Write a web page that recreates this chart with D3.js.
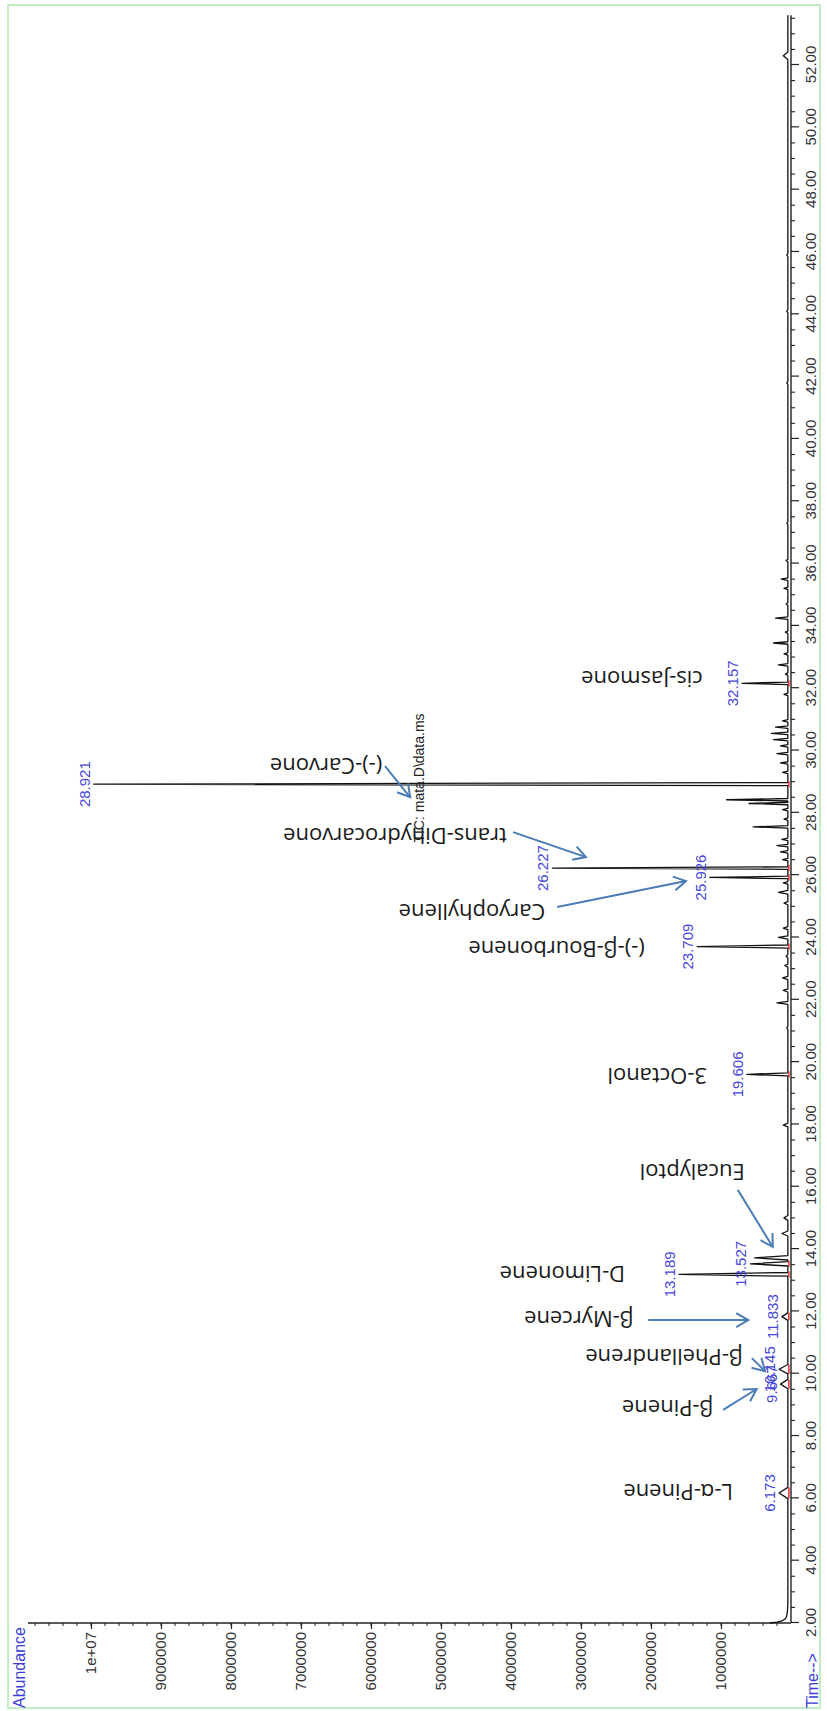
<!DOCTYPE html>
<html>
<head>
<meta charset="utf-8">
<script src="https://cdn.jsdelivr.net/npm/d3@7"></script>
<style>
  body { margin: 0; background: #fff; }
  svg { display: block; }
</style>
</head>
<body>
<svg id="chart" width="827" height="1711"></svg>
<script>
// ---- TIC trace: peak apexes (retention time in min, abundance, half base width in min)
const peakTimes = [6.173, 9.667, 10.145, 11.833, 13.189, 13.527, 13.72, 14.5, 15.0, 17.98,
  19.606, 21.1, 21.9, 22.3, 22.7, 23.1, 23.4, 23.709, 24.0, 24.3,
  25.1, 25.45, 25.75, 25.926, 26.227, 26.5, 26.75, 26.95, 27.15, 27.55,
  27.8, 28.1, 28.3, 28.42, 28.921, 29.3, 29.6, 29.9, 30.15, 30.35,
  30.55, 30.75, 30.95, 31.8, 32.157, 32.45, 32.75, 33.1, 33.45, 33.8,
  34.25, 34.7, 35.2, 35.5, 36.1, 37.3, 41.8, 44.1, 45.9, 52.3];
const peakHeights = [170000, 150000, 170000, 130000, 1600000, 580000, 520000, 130000, 100000, 110000,
  630000, 60000, 200000, 110000, 120000, 90000, 70000, 1340000, 180000, 110000,
  100000, 180000, 110000, 1160000, 3410000, 120000, 150000, 200000, 130000, 540000,
  100000, 120000, 600000, 920000, 9960000, 120000, 150000, 200000, 150000, 250000,
  280000, 220000, 120000, 100000, 700000, 80000, 180000, 100000, 250000, 80000,
  220000, 70000, 100000, 140000, 70000, 60000, 60000, 60000, 60000, 110000];
const peakHalfWidths = [0.18, 0.15, 0.15, 0.12, 0.06, 0.07, 0.07, 0.08, 0.08, 0.06,
  0.05, 0.05, 0.05, 0.05, 0.05, 0.05, 0.05, 0.05, 0.05, 0.05,
  0.05, 0.06, 0.04, 0.04, 0.04, 0.04, 0.04, 0.04, 0.04, 0.04,
  0.04, 0.04, 0.04, 0.04, 0.05, 0.04, 0.04, 0.04, 0.04, 0.04,
  0.04, 0.04, 0.04, 0.04, 0.04, 0.04, 0.04, 0.04, 0.04, 0.04,
  0.04, 0.04, 0.04, 0.04, 0.04, 0.04, 0.05, 0.05, 0.05, 0.12];

// solvent tail at the start of the run
const tailTimes = [2.0, 2.03, 2.07, 2.12, 2.2, 2.35, 2.6];
const tailValues = [300000, 200000, 130000, 90000, 65000, 52000, 45000];
const baselineLevel = 45000;
const runEnd = 53.6;

// integrated peaks carrying a retention-time label
const rtLabels = ["6.173", "9.667", "10.145", "11.833", "13.189", "13.527",
  "19.606", "23.709", "25.926", "26.227", "28.921", "32.157"];

// compound annotations (label anchor in data units)
const compoundNames = ["L-α-Pinene", "β-Pinene", "β-Phellandrene", "β-Myrcene", "D-Limonene",
  "Eucalyptol", "3-Octanol", "(-)-β-Bourbonene", "Caryophyllene", "trans-Dihydrocarvone",
  "(-)-Carvone", "cis-Jasmone"];
const compoundLabelTimes = [6.17, 8.87, 10.5, 11.72, 13.17, 16.44, 19.52, 23.6, 24.79, 27.22, 29.47, 32.26];
const compoundLabelAbund = [830000, 1110000, 690000, 2250000, 2370000, 660000, 1200000, 2090000,
  3510000, 4060000, 5840000, 1260000];

// annotation arrows: start and tip in data units
const arrowFromTimes = [8.84, 10.5, 11.72, 15.9, 24.98, 27.38, 29.5];
const arrowFromAbund = [970000, 560000, 2040000, 760000, 3340000, 3970000, 5800000];
const arrowToTimes = [9.51, 10.08, 11.72, 14.07, 25.81, 26.58, 28.5];
const arrowToAbund = [490000, 370000, 610000, 260000, 1500000, 2930000, 5440000];

// axis tick labels
const timeTickLabels = ["2.00", "4.00", "6.00", "8.00", "10.00", "12.00", "14.00", "16.00", "18.00",
  "20.00", "22.00", "24.00", "26.00", "28.00", "30.00", "32.00", "34.00", "36.00", "38.00",
  "40.00", "42.00", "44.00", "46.00", "48.00", "50.00", "52.00"];
const abundanceTickLabels = ["1000000", "2000000", "3000000", "4000000", "5000000",
  "6000000", "7000000", "8000000", "9000000", "1e+07"];

// ---- layout
const svg = d3.select("#chart");
const Y0 = 1623;                       // screen row of the time origin
const tScale = d3.scaleLinear().domain([2, 52]).range([0, 1558]);
const aScale = d3.scaleLinear().domain([0, 1e7]).range([791, 91]);
const sx = a => aScale(a);
const sy = t => Y0 - tScale(t);
const axisFont = "'Liberation Sans', Arial, sans-serif";

// page frame
svg.append("rect")
  .attr("x", 8).attr("y", 5).attr("width", 812).attr("height", 1703)
  .attr("fill", "none").attr("stroke", "#c2ecc2").attr("stroke-width", 2);

// the plot is laid out with time running up the page and abundance to the left
const g = svg.append("g").attr("transform", `translate(0,${Y0}) rotate(-90)`);

// time axis
const timeTickVals = timeTickLabels.map(Number);
const timeAxis = d3.axisBottom(tScale)
  .tickValues(timeTickVals)
  .tickFormat((d, i) => timeTickLabels[i])
  .tickSize(8).tickPadding(6).tickSizeOuter(0);
const tAx = g.append("g").attr("transform", `translate(0,${aScale(0)})`).call(timeAxis);
tAx.select(".domain").remove();
tAx.selectAll("line").attr("stroke", "#222").attr("stroke-width", 1.2);
tAx.selectAll("text").attr("font-family", axisFont).attr("font-size", 15).attr("fill", "#333");
g.append("g").selectAll("line")
  .data(d3.range(2.5, runEnd, 0.5).filter(t => !timeTickVals.includes(t)))
  .join("line")
  .attr("x1", d => tScale(d)).attr("x2", d => tScale(d))
  .attr("y1", aScale(0)).attr("y2", aScale(0) + 4)
  .attr("stroke", "#222").attr("stroke-width", 1.1);
g.append("line")
  .attr("x1", tScale(2)).attr("x2", tScale(runEnd))
  .attr("y1", aScale(0)).attr("y2", aScale(0))
  .attr("stroke", "#222").attr("stroke-width", 1.4);

// abundance axis
const abundTop = aScale.invert(28);
const abundAxis = d3.axisLeft(aScale)
  .tickValues(abundanceTickLabels.map(Number))
  .tickFormat((d, i) => abundanceTickLabels[i])
  .tickSize(6).tickPadding(3).tickSizeOuter(0);
const aAx = g.append("g").call(abundAxis);
aAx.select(".domain").remove();
aAx.selectAll("line").attr("stroke", "#222").attr("stroke-width", 1.2);
aAx.selectAll("text").attr("font-family", axisFont).attr("font-size", 15).attr("fill", "#333");
g.append("g").selectAll("line")
  .data(d3.range(200000, abundTop, 200000))
  .join("line")
  .attr("x1", 0).attr("x2", -3)
  .attr("y1", d => aScale(d)).attr("y2", d => aScale(d))
  .attr("stroke", "#222").attr("stroke-width", 1);
g.append("line")
  .attr("x1", 0).attr("x2", 0)
  .attr("y1", aScale(0)).attr("y2", aScale(abundTop))
  .attr("stroke", "#222").attr("stroke-width", 1.4);

// build the chromatogram polyline
const trace = tailTimes.map((t, i) => ({ t, a: tailValues[i] }));
peakTimes.forEach((t, i) => {
  const w = peakHalfWidths[i];
  trace.push({ t: t - w, a: baselineLevel });
  trace.push({ t, a: peakHeights[i] });
  trace.push({ t: t + w, a: baselineLevel });
});
trace.push({ t: runEnd, a: baselineLevel });

g.append("path")
  .datum(trace)
  .attr("fill", "none")
  .attr("stroke", "#111")
  .attr("stroke-width", 1.3)
  .attr("stroke-linejoin", "round")
  .attr("d", d3.line().x(d => tScale(d.t)).y(d => aScale(d.a)));

// integration baselines and retention-time labels
rtLabels.forEach(lbl => {
  const t = +lbl;
  const i = peakTimes.indexOf(t);
  const h = peakHeights[i];
  const w = Math.max(peakHalfWidths[i], 0.1);
  g.append("line")
    .attr("x1", tScale(t - w)).attr("x2", tScale(t + w))
    .attr("y1", aScale(baselineLevel) + 1).attr("y2", aScale(baselineLevel) + 1)
    .attr("stroke", "#e23a3a").attr("stroke-width", 1.6);
  g.append("text")
    .attr("x", tScale(t)).attr("y", aScale(h) - 4)
    .attr("text-anchor", "middle")
    .attr("font-family", axisFont).attr("font-size", 15)
    .attr("fill", "#4646d8")
    .text(lbl);
});

// compound names (drawn upside down)
compoundNames.forEach((name, i) => {
  svg.append("text")
    .attr("transform", `translate(${sx(compoundLabelAbund[i])},${sy(compoundLabelTimes[i])}) rotate(180)`)
    .attr("text-anchor", "start")
    .attr("dominant-baseline", "central")
    .attr("font-family", "'Open Sans', 'Noto Sans', sans-serif")
    .attr("font-size", 22)
    .attr("fill", "#1a1a1a")
    .text(name);
});

// arrows pointing at the peaks
const arrowColor = "#4a7db5";
arrowFromTimes.forEach((t0, i) => {
  const x0 = sx(arrowFromAbund[i]), y0 = sy(t0);
  const x1 = sx(arrowToAbund[i]), y1 = sy(arrowToTimes[i]);
  const ang = Math.atan2(y1 - y0, x1 - x0);
  const len = 14, spread = Math.PI / 6;
  const hx1 = x1 - len * Math.cos(ang - spread), hy1 = y1 - len * Math.sin(ang - spread);
  const hx2 = x1 - len * Math.cos(ang + spread), hy2 = y1 - len * Math.sin(ang + spread);
  svg.append("line")
    .attr("x1", x0).attr("y1", y0).attr("x2", x1).attr("y2", y1)
    .attr("stroke", arrowColor).attr("stroke-width", 2);
  svg.append("path")
    .attr("d", `M${hx1},${hy1}L${x1},${y1}L${hx2},${hy2}`)
    .attr("fill", "none").attr("stroke", arrowColor).attr("stroke-width", 2)
    .attr("stroke-linejoin", "miter");
});

// title and axis names
svg.append("text")
  .attr("transform", `translate(424,778) rotate(-90)`)
  .attr("text-anchor", "middle")
  .attr("font-family", axisFont).attr("font-size", 14).attr("fill", "#222")
  .text("TIC: mata.D\\data.ms");

svg.append("text")
  .attr("transform", `translate(25,1708) rotate(-90)`)
  .attr("text-anchor", "start")
  .attr("font-family", axisFont).attr("font-size", 16).attr("fill", "#3b3bd6")
  .text("Abundance");

svg.append("text")
  .attr("transform", `translate(818,1708) rotate(-90)`)
  .attr("text-anchor", "start")
  .attr("font-family", axisFont).attr("font-size", 16).attr("fill", "#3b3bd6")
  .text("Time-->");
</script>
</body>
</html>
